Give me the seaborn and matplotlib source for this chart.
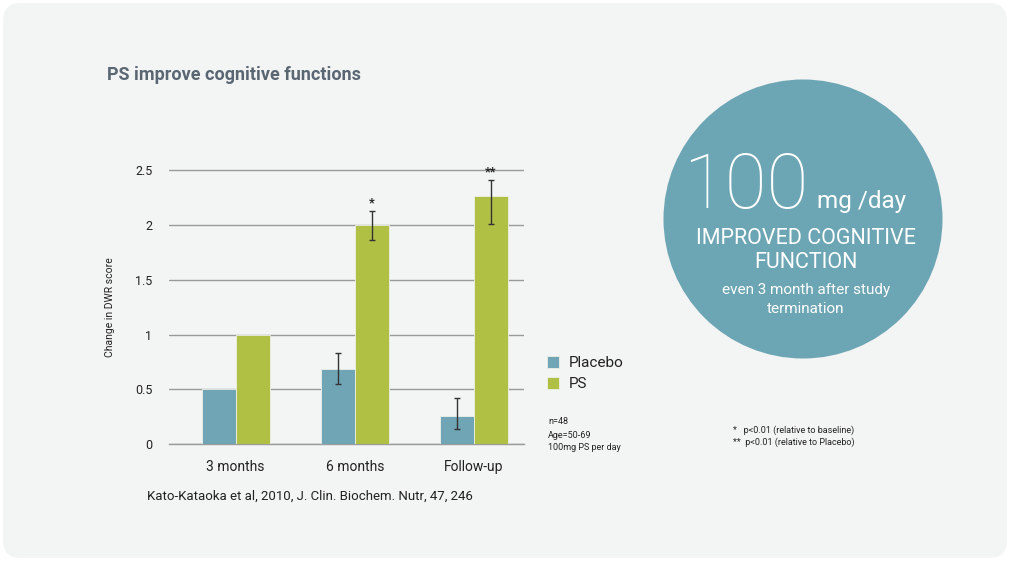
from matplotlib import pyplot as plt
from matplotlib.patches import Circle, FancyBboxPatch
import pandas as pd
import numpy as np
import seaborn as sns

# Chart data
timepoints = ["3 months", "6 months", "Follow-up"]
groups = ["Placebo", "PS"]
placebo_vals = [0.50, 0.69, 0.26]
ps_vals = [1.00, 2.00, 2.26]
placebo_err_lo = [0.0, 0.14, 0.12]
placebo_err_hi = [0.0, 0.14, 0.16]
ps_err_lo = [0.0, 0.14, 0.25]
ps_err_hi = [0.0, 0.13, 0.15]
ps_marks = ["", "*", "**"]

colors = {"Placebo": "#6fa5b5", "PS": "#b0c045"}
text_col = "#222222"
font = ["Roboto", "DejaVu Sans"]

sns.set_theme(style="white")
plt.rcParams["font.family"] = font

W, H = 1011, 563
fig = plt.figure(figsize=(W / 100, H / 100), dpi=100)
fig.patch.set_facecolor("white")

# Background panel and big circle in pixel coordinates
bg = fig.add_axes([0, 0, 1, 1])
bg.set_xlim(0, W)
bg.set_ylim(H, 0)
bg.axis("off")
bg.add_patch(FancyBboxPatch((3 + 18, 3 + 18), 1004 - 36, 555 - 36,
                            boxstyle="round,pad=18", fc="#f3f4f4", ec="none"))
bg.add_patch(Circle((803, 219), 139.5, fc="#6ca5b3", ec="none"))

# Bar chart
d = pd.DataFrame({
    "timepoint": timepoints * 2,
    "group": ["Placebo"] * 3 + ["PS"] * 3,
    "value": placebo_vals + ps_vals,
})

ax = fig.add_axes([169 / W, 1 - 444.3 / H, 355 / W, (444.3 - 159.1) / H])
ax.set_facecolor("none")
sns.barplot(data=d, x="timepoint", y="value", hue="group", hue_order=groups,
            palette=colors, width=0.57, errorbar=None, ax=ax,
            edgecolor="#eef0e6", linewidth=0.6, saturation=1, legend=True, zorder=3)

ax.set_xlim(-0.56, 2.42)
ax.set_ylim(0, 2.6)
ax.set_yticks([0, 0.5, 1, 1.5, 2, 2.5])
ax.set_yticklabels(["0", "0.5", "1", "1.5", "2", "2.5"])
ax.yaxis.grid(True, color="#9a9a9a", linewidth=1, zorder=0)
ax.set_axisbelow(True)
for s in ["top", "right", "left"]:
    ax.spines[s].set_visible(False)
ax.spines["bottom"].set_color("#9a9a9a")
ax.spines["bottom"].set_linewidth(1)
ax.tick_params(axis="y", length=0, pad=12, labelsize=9, labelcolor=text_col)
ax.tick_params(axis="x", length=0, pad=11, labelsize=10, labelcolor=text_col)
ax.set_xlabel("")
ax.set_ylabel("")

# Error bars and significance marks, placed at the bar centres
err = {"Placebo": (placebo_vals, placebo_err_lo, placebo_err_hi),
       "PS": (ps_vals, ps_err_lo, ps_err_hi)}
for cont, g in zip(ax.containers, groups):
    vals, lo, hi = err[g]
    xs = [p.get_x() + p.get_width() / 2 for p in cont.patches]
    for x, v, l, h in zip(xs, vals, lo, hi):
        if l == 0 and h == 0:
            continue
        ax.errorbar(x, v, yerr=[[l], [h]], fmt="none", ecolor="#333333",
                    elinewidth=1, capsize=2.5, capthick=1, zorder=4)
    if g == "PS":
        for x, v, h, m in zip(xs, vals, hi, ps_marks):
            if m:
                ax.text(x, v + h + 0.01, m, ha="center", va="bottom",
                        fontsize=9, fontweight="bold", color=text_col, zorder=5)

leg = ax.legend(loc="upper left", bbox_to_anchor=(547 / W, 1 - 356 / H),
                bbox_transform=fig.transFigure, frameon=False, fontsize=11,
                handlelength=0.8, handleheight=0.8, handletextpad=0.6,
                labelspacing=0.45, borderaxespad=0, borderpad=0)
for t in leg.get_texts():
    t.set_color(text_col)

# Texts
fig.text(110 / W, 1 - 307 / H, "Change in DWR score", rotation=90, ha="center",
         va="center", fontsize=7.5, color=text_col)
fig.text(107 / W, 1 - 75 / H, "PS improve cognitive functions", ha="left",
         va="center", fontsize=13, fontweight="bold", color="#5b6673")
fig.text(147 / W, 1 - 496 / H, "Kato-Kataoka et al, 2010, J. Clin. Biochem. Nutr, 47, 246",
         ha="left", va="center", fontsize=9.5, color=text_col)

for i, line in enumerate(["n=48", "Age=50-69", "100mg PS per day"]):
    fig.text(548 / W, 1 - (422 + 13 * i) / H, line, ha="left", va="center",
             fontsize=6.5, color=text_col)

fig.text(733 / W, 1 - 430 / H, "*   p<0.01 (relative to baseline)", ha="left",
         va="center", fontsize=6.5, color=text_col)
fig.text(733 / W, 1 - 442 / H, "**  p<0.01 (relative to Placebo)", ha="left",
         va="center", fontsize=6.5, color=text_col)

# Circle texts
fig.text(808 / W, 1 - 208 / H, "100", ha="right", va="baseline", fontsize=55,
         fontweight="light", color="white")
fig.text(817 / W, 1 - 208 / H, "mg /day", ha="left", va="baseline", fontsize=17.5,
         color="white")
fig.text(806 / W, 1 - 238 / H, "IMPROVED COGNITIVE", ha="center", va="center",
         fontsize=15.5, color="white")
fig.text(806 / W, 1 - 263 / H, "FUNCTION", ha="center", va="center",
         fontsize=15.5, color="white")
fig.text(806 / W, 1 - 290 / H, "even 3 month after study", ha="center", va="center",
         fontsize=11, color="white")
fig.text(806 / W, 1 - 309 / H, "termination", ha="center", va="center",
         fontsize=11, color="white")

fig.savefig("out.png", dpi=100)
